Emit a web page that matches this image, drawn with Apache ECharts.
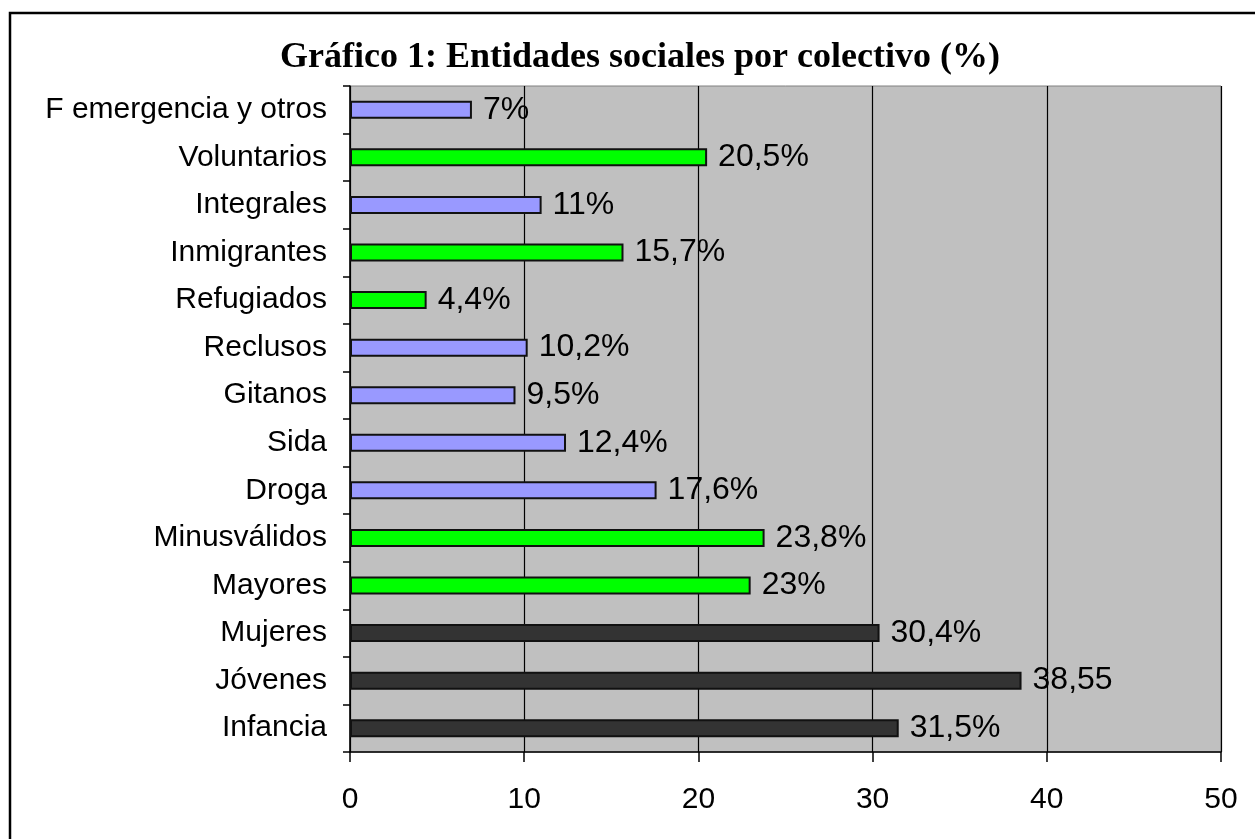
<!DOCTYPE html>
<html>
<head>
<meta charset="utf-8">
<script src="https://cdn.jsdelivr.net/npm/echarts@6/dist/echarts.min.js"></script>
<style>
html,body{margin:0;padding:0;background:#fff;}
#chart{width:1255px;height:839px;}
</style>
</head>
<body>
<div id="chart"></div>
<script>
// Categories listed bottom to top
const categories = ['Infancia','Jóvenes','Mujeres','Mayores','Minusválidos','Droga','Sida','Gitanos','Reclusos','Refugiados','Inmigrantes','Integrales','Voluntarios','F emergencia y otros'];
const values = [31.5, 38.55, 30.4, 23, 23.8, 17.6, 12.4, 9.5, 10.2, 4.4, 15.7, 11, 20.5, 7];
const valueLabels = ['31,5%','38,55','30,4%','23%','23,8%','17,6%','12,4%','9,5%','10,2%','4,4%','15,7%','11%','20,5%','7%'];
const groups = ['dark','dark','dark','green','green','blue','blue','blue','blue','green','green','blue','green','blue'];
const xTicks = [0, 10, 20, 30, 40, 50];
const titleText = 'Gráfico 1: Entidades sociales por colectivo (%)';

const palette = {dark:'#333333', green:'#00ff00', blue:'#9999ff'};

const chart = echarts.init(document.getElementById('chart'), null, {renderer:'canvas'});
const option = {
  animation:false,
  backgroundColor:'#ffffff',
  grid:{left:350, right:34, top:86, bottom:87, show:true, backgroundColor:'#c0c0c0', borderColor:'#808080', borderWidth:1, containLabel:false},
  xAxis:{
    type:'value', min:xTicks[0], max:xTicks[xTicks.length-1], interval:10,
    axisLine:{show:true, lineStyle:{color:'#000', width:1.5}},
    axisTick:{show:true, length:10, lineStyle:{color:'#000', width:1.5}},
    axisLabel:{color:'#000', fontFamily:'Liberation Sans, Arial, sans-serif', fontSize:30, margin:33},
    splitLine:{show:true, lineStyle:{color:'#000', width:1.2}}
  },
  yAxis:{
    type:'category', data:categories,
    axisLine:{show:true, lineStyle:{color:'#000', width:1.5}},
    axisTick:{show:true, length:7, lineStyle:{color:'#000', width:1.5}},
    axisLabel:{color:'#000', fontFamily:'Liberation Sans, Arial, sans-serif', fontSize:30, margin:23},
    splitLine:{show:false}
  },
  series:[{
    type:'bar',
    barWidth:18,
    data: values.map((v,i)=>({value:v, itemStyle:{color:palette[groups[i]], borderColor:'#111', borderWidth:2}})),
    label:{
      show:true, position:'right', distance:11, color:'#000',
      fontFamily:'Liberation Sans, Arial, sans-serif', fontSize:32,
      formatter:(p)=>valueLabels[p.dataIndex]
    }
  }],
  graphic:[
    {type:'rect', shape:{x:10, y:13, width:1400, height:1000}, style:{fill:'none', stroke:'#000', lineWidth:2.5}, silent:true},
    {type:'text', x:640, y:58, style:{text:titleText, fill:'#000', font:'bold 36px "Liberation Serif", "Times New Roman", serif', textAlign:'center', textVerticalAlign:'middle'}}
  ]
};
chart.setOption(option);
</script>
</body>
</html>
